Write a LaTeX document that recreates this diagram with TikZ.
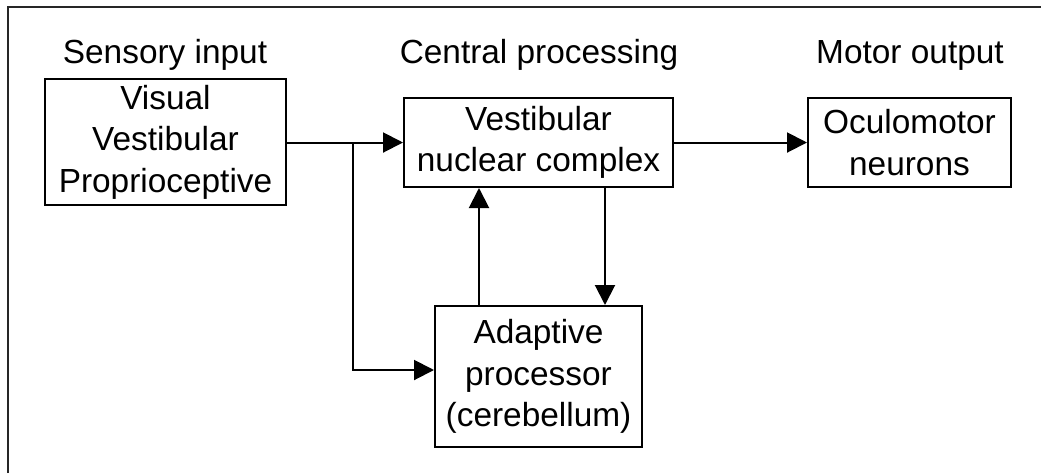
\documentclass[tikz,border=0pt]{standalone}
\usepackage{fontspec}
\setmainfont{Liberation Sans}
\usetikzlibrary{arrows.meta}
\begin{document}
\begin{tikzpicture}[x=0.5pt,y=-0.5pt,
  box/.style={draw, line width=1pt, inner sep=0pt, align=center,
    font=\fontsize{16.7}{20.75}\selectfont},
  ttl/.style={anchor=base, inner sep=0pt, font=\fontsize{16.7}{20.75}\selectfont},
  arr/.style={line width=1pt, -{Triangle[length=10pt,width=10pt]}},
  frame/.style={line width=1pt, draw=black!85}]
\useasboundingbox (0,0) rectangle (1041,473);
% frame (open at right and bottom)
\draw[frame] (8,473) -- (8,7) -- (1041,7);
% titles
\node[ttl] (t1) at (165,63) {Sensory input};
\node[ttl] (t2) at (539,63) {Central processing};
\node[ttl] (t3) at (910,63) {Motor output};
% boxes
\node[box, minimum width=120.5pt, minimum height=63pt] (sens) at (165.5,142) {Visual\\Vestibular\\Proprioceptive};
\node[box, minimum width=134.5pt, minimum height=44.5pt] (vnc) at (538.5,142.5) {Vestibular\\nuclear complex};
\node[box, minimum width=101.5pt, minimum height=44.5pt] (ocu) at (909.5,142.5) {Oculomotor\\neurons};
\node[box, minimum width=103.5pt, minimum height=70.5pt] (adap) at (538.5,376.5) {Adaptive\\processor\\(cerebellum)};
% helper coordinates
\coordinate (br) at (353,142.5);
\coordinate (upx) at (479,0);
\coordinate (dnx) at (605,0);
% connectors
\draw[arr] (sens.east |- vnc.west) -- (vnc.west);
\draw[arr] (br) |- ([yshift=3.25pt]adap.west);
\draw[arr] (adap.north -| upx) -- (vnc.south -| upx);
\draw[arr] (vnc.south -| dnx) -- (adap.north -| dnx);
\draw[arr] (vnc.east) -- (ocu.west);
\end{tikzpicture}
\end{document}
